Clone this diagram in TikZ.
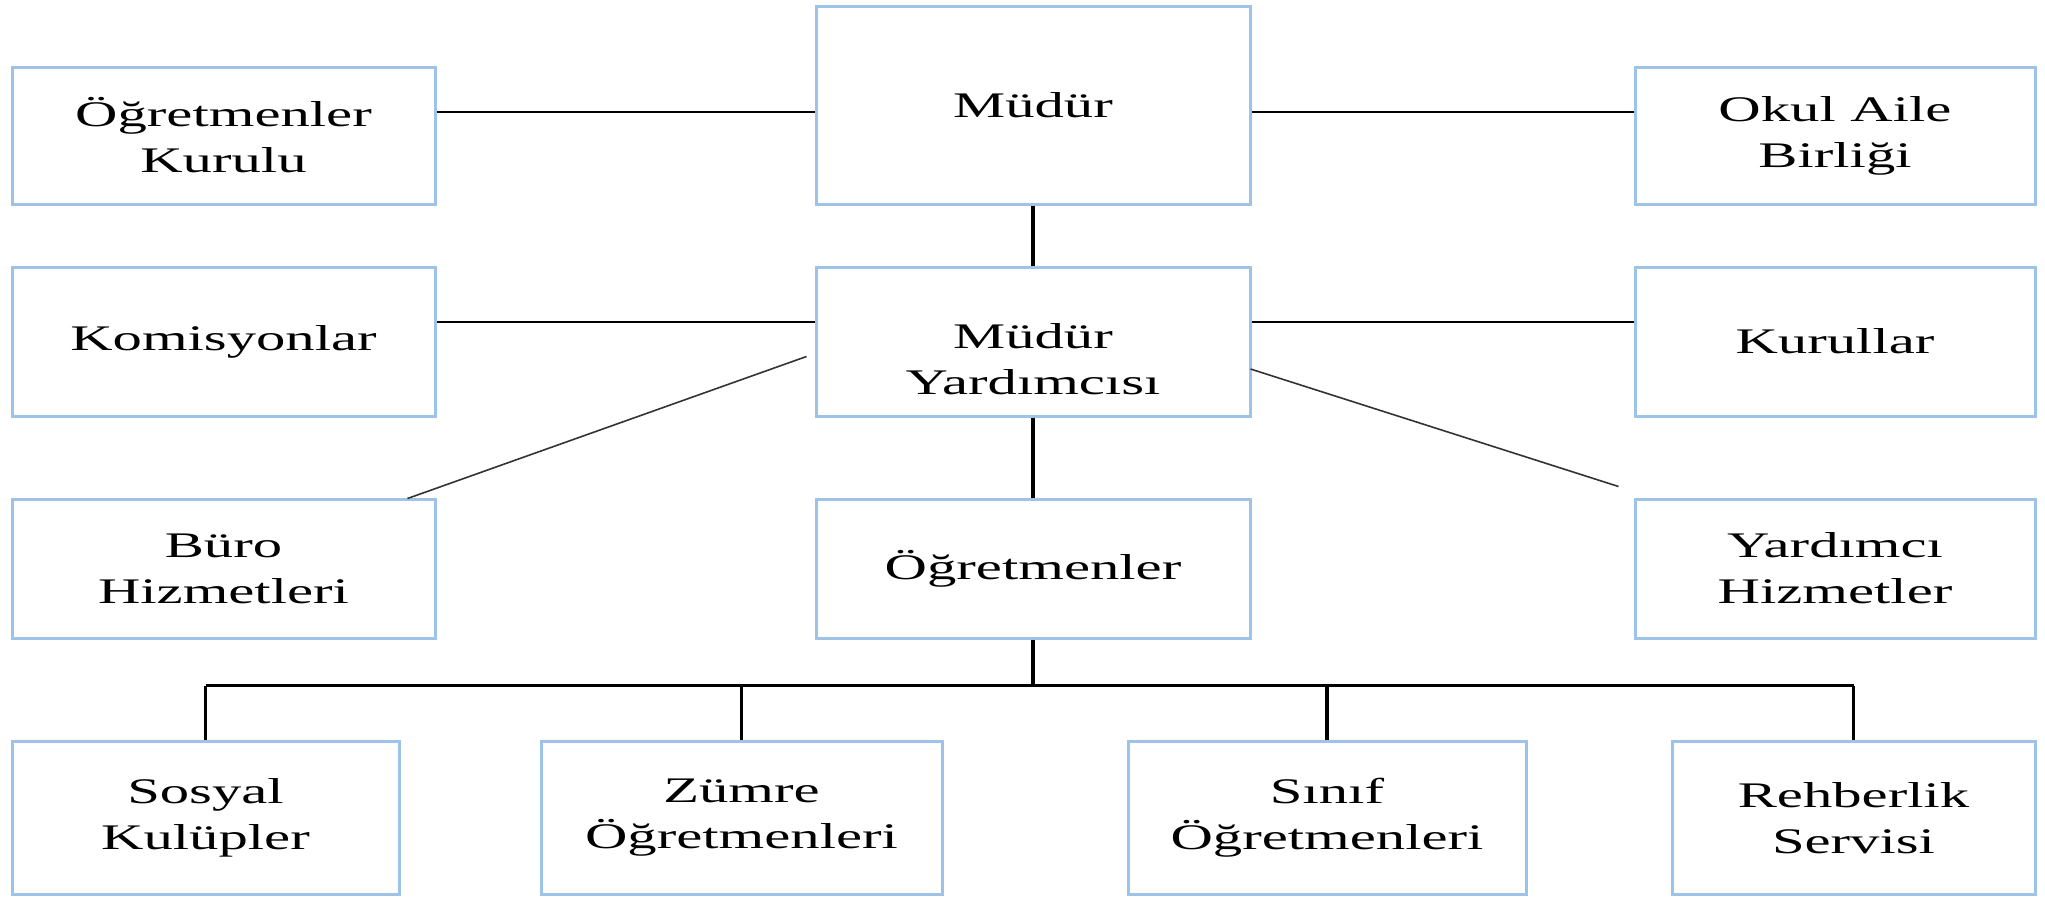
\documentclass[tikz,border=0pt]{standalone}
\usepackage{fontspec}
\setmainfont{Liberation Serif}[FakeStretch=1.63]
\definecolor{boxblue}{HTML}{9DC3E6}
\begin{document}
\begin{tikzpicture}[x=1pt,y=-1pt,
  box/.style={draw=boxblue,line width=3pt,align=center,inner sep=0pt,
    font=\fontsize{36}{46}\selectfont},
  hl/.style={line width=2.3pt,black},
  vl/.style={line width=3.2pt,black},
  diag/.style={line width=1.6pt,black!80}]
\useasboundingbox (0,0) rectangle (2045,897);
% row 1
\node[box,minimum width=423pt,minimum height=137pt] (ok) at (223.5,135.5) {Öğretmenler\\Kurulu};
\node[box,minimum width=434pt,minimum height=198pt] (mudur) at (1033,105) {Müdür};
\node[box,minimum width=400pt,minimum height=137pt] (oab) at (1835,135.5) {Okul Aile\\Birliği};
% row 2
\node[box,minimum width=423pt,minimum height=149pt] (kom) at (223.5,341.5) {Komisyonlar};
\node[box,minimum width=434pt,minimum height=149pt] (my) at (1033,341.5) {};
\node[box,draw=none,yshift=-18pt] (myt) at (my.center) {Müdür\\Yardımcısı};
\node[box,minimum width=400pt,minimum height=149pt] (kur) at (1835,341.5) {Kurullar};
% row 3
\node[box,minimum width=423pt,minimum height=139pt] (buro) at (223.5,568.5) {Büro\\Hizmetleri};
\node[box,minimum width=434pt,minimum height=139pt] (ogr) at (1033,568.5) {Öğretmenler};
\node[box,minimum width=400pt,minimum height=139pt] (yh) at (1835,568.5) {Yardımcı\\Hizmetler};
% row 4
\node[box,minimum width=387pt,minimum height=153pt] (sos) at (205.5,818) {Sosyal\\Kulüpler};
\node[box,minimum width=401pt,minimum height=153pt] (zum) at (741.5,818) {Zümre\\Öğretmenleri};
\node[box,minimum width=398pt,minimum height=153pt] (sin) at (1327,818) {Sınıf\\Öğretmenleri};
\node[box,minimum width=363pt,minimum height=153pt] (reh) at (1853.5,818) {Rehberlik\\Servisi};
% connectors
\draw[hl] (ok.east |- 0,112) -- (mudur.west |- 0,112);
\draw[hl] (mudur.east |- 0,112) -- (oab.west |- 0,112);
\draw[hl] (kom.east |- 0,322) -- (my.west |- 0,322);
\draw[hl] (my.east |- 0,322) -- (kur.west |- 0,322);
\draw[vl] (mudur.south) -- (my.north);
\draw[vl] (my.south) -- (ogr.north);
\draw[diag] ([shift={(-8,15)}]my.west) -- ([shift={(-29,1)}]buro.north east);
\draw[diag] ([shift={(-1,27.5)}]my.east) -- ([shift={(-15,-11)}]yh.north west);
\coordinate (bus) at ([yshift=-46pt]ogr.south);
\draw[vl] (ogr.south) -- (bus);
\draw[hl] (sos.north |- bus) -- (reh.north |- bus);
\draw[vl] (sos.north) -- (sos.north |- bus);
\draw[vl] (zum.north) -- (zum.north |- bus);
\draw[vl] (sin.north) -- (sin.north |- bus);
\draw[vl] (reh.north) -- (reh.north |- bus);
\end{tikzpicture}
\end{document}
